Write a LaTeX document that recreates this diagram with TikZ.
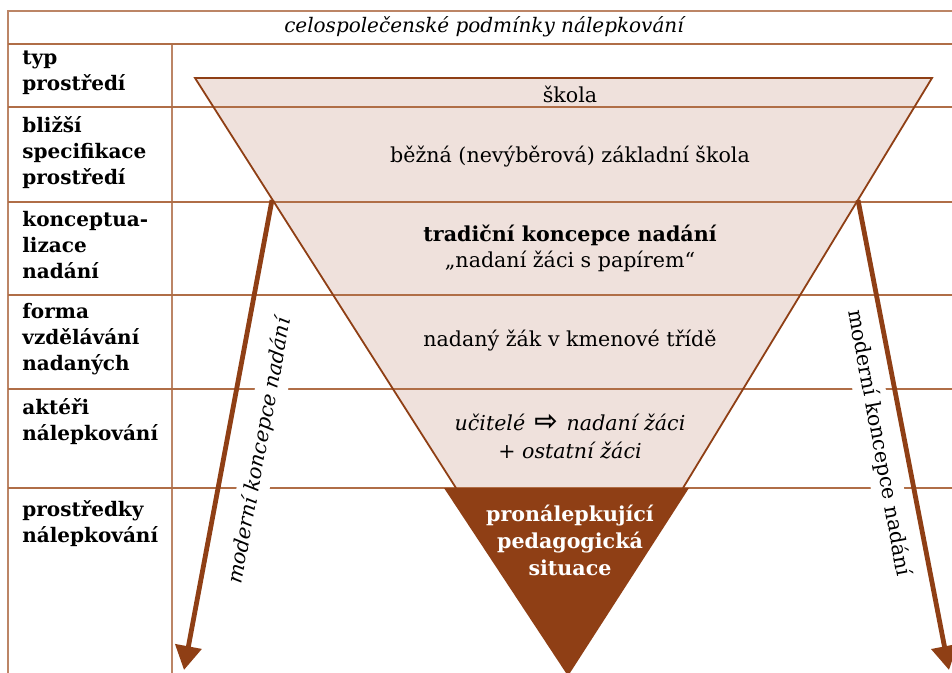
\documentclass[tikz,border=0pt]{standalone}
\usepackage{fontspec}
\setmainfont{DejaVu Serif}
\newfontfamily\symfont{DejaVu Sans}
\usetikzlibrary{arrows.meta,positioning}
\definecolor{brownDark}{HTML}{8F3F15}
\definecolor{brownLine}{HTML}{B06E47}
\definecolor{brownFrame}{HTML}{BC8566}
\definecolor{funnelFill}{HTML}{EFE1DC}
\tikzset{frame-line/.style={draw=brownFrame, line width=0.7pt}}
\tikzset{row-line/.style={draw=brownLine, line width=0.6pt}}
\tikzset{funnel-line/.style={draw=brownDark, line width=0.9pt}}
\tikzset{row-label/.style={anchor=north west, align=left, inner sep=0, font=\fontsize{10}{13}\selectfont\bfseries}}
\tikzset{cell-text/.style={align=center, inner sep=0}}
\tikzset{concept-arrow/.style={draw=brownDark, line width=2.4pt, -{Triangle[width=13pt,length=12pt]}}}
\tikzset{concept-label/.style={fill=white, inner sep=3pt}}

\begin{document}
\begin{tikzpicture}[x=0.5pt, y=-0.5pt, font=\fontsize{10.3}{13}\selectfont]
    \useasboundingbox (0,0) rectangle (952,673);

    % funnel fill
    \fill[funnelFill] (195,78) -- (932,78) -- (683,488) -- (456,488) -- cycle;

    % table
    \draw[frame-line] (952,11) -- (8,11) -- (8,673);
    \draw[frame-line] (172,44) -- (172,673);
    \foreach \y in {44,107,202,295,389,488}
        \draw[row-line] (8,\y) -- (952,\y);

    % funnel outline
    \draw[funnel-line] (456,488) -- (195,78) -- (932,78) -- (683,488);
    \draw[funnel-line, line width=1.3pt] (195,78) -- (932,78);
    \fill[brownDark] (444,488) -- (689,488) -- (568,676) -- cycle;

    \node[font=\fontsize{10}{13}\selectfont\itshape] (title) at (484,27) {celospolečenské podmínky nálepkování};

    \node[row-label] (lab1) at (22,51) {typ\\prostředí};
    \node[row-label] (lab2) at (22,116) {bližší\\specifikace\\prostředí};
    \node[row-label] (lab3) at (22,211) {konceptua-\\lizace\\nadání};
    \node[row-label] (lab4) at (22,303) {forma\\vzdělávání\\nadaných};
    \node[row-label] (lab5) at (22,398) {aktéři\\nálepkování};
    \node[row-label] (lab6) at (22,500) {prostředky\\nálepkování};

    \node[cell-text] (skola) at (570,94) {škola};
    \node[cell-text] (bezna) at (570,157) {běžná (nevýběrová) základní škola};
    \node[cell-text] (tradicni) at (570,248) {\textbf{tradiční koncepce nadání}\\„nadaní žáci s papírem“};
    \node[cell-text] (kmenova) at (570,341) {nadaný žák v kmenové třídě};
    \node[cell-text, font=\fontsize{10.3}{14}\selectfont\itshape] (akteri) at (570,437) {učitelé\hspace{4.5pt}{\symfont\upshape\bfseries\fontsize{14}{14}\selectfont ⇨}\hspace{4.5pt}nadaní žáci\\+ ostatní žáci};
    \node[cell-text, text=white, font=\fontsize{10.3}{13.5}\selectfont\bfseries] (situace) at (570,540) {pronálepkující\\pedagogická\\situace};

    % moderni koncepce
    \node[concept-label, rotate=79.5, font=\fontsize{10.3}{13}\selectfont\itshape] (modL) at (260,451) {moderní koncepce nadání};
    \node[concept-label, rotate=-79.5] (modR) at (879,443) {moderní koncepce nadání};

    \coordinate (lt) at (272,200);
    \coordinate (lb) at (184,670);
    \coordinate (rt) at (858,200);
    \coordinate (rb) at (949,670);
    \draw[concept-arrow] (lt) -- (lb);
    \draw[concept-arrow] (rt) -- (rb);
\end{tikzpicture}
\end{document}
